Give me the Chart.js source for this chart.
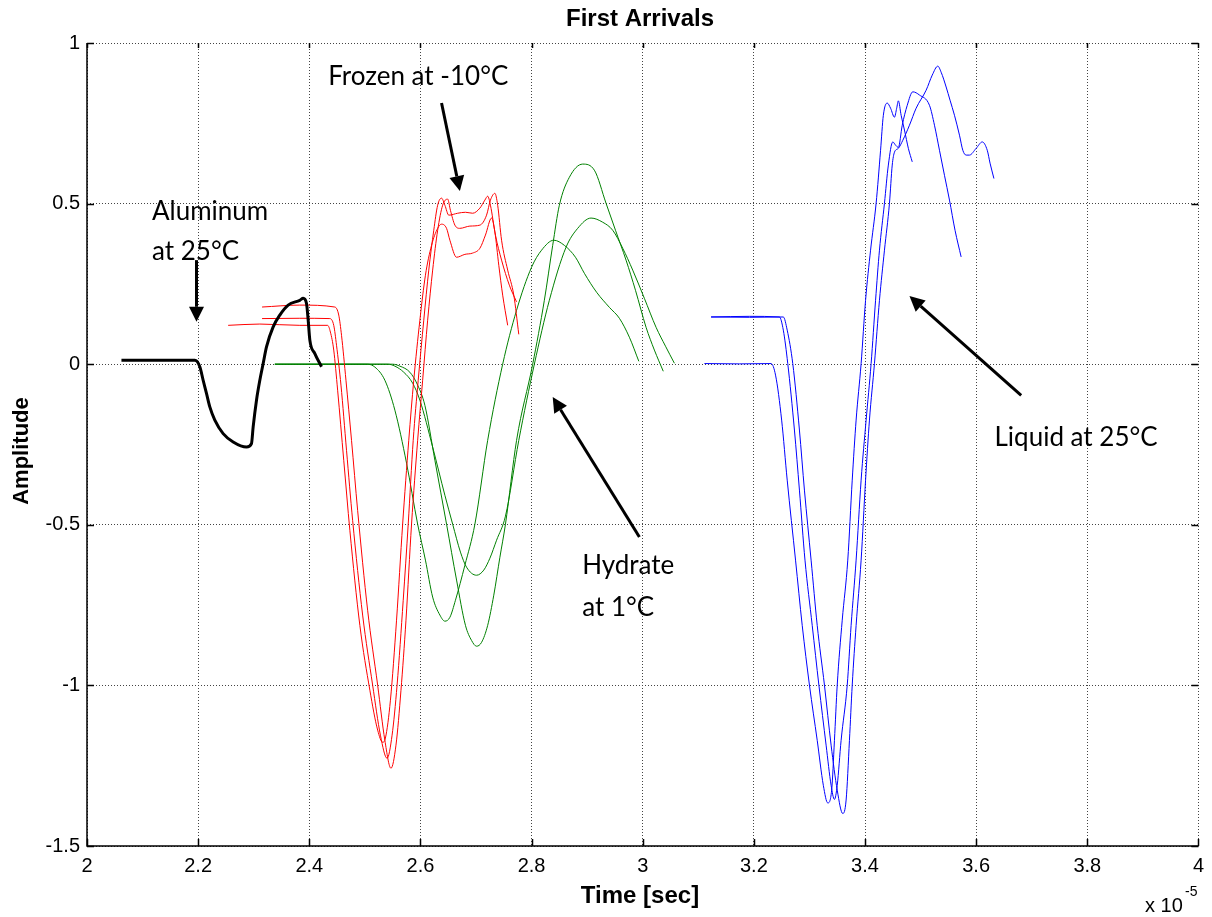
<!DOCTYPE html>
<html>
<head>
<meta charset="utf-8">
<title>First Arrivals</title>
<script src="https://cdn.jsdelivr.net/npm/chart.js@4.4.1/dist/chart.umd.min.js"></script>
<style>
    html, body { margin: 0; padding: 0; background: #fff; }
    #wrap { width: 1212px; height: 917px; }
</style>
</head>
<body>
<div id="wrap"><canvas id="arrivals" width="1212" height="917"></canvas></div>
<script>
// time is in units of 1e-5 s
const xTicks = [2, 2.2, 2.4, 2.6, 2.8, 3, 3.2, 3.4, 3.6, 3.8, 4];
const yTicks = [-1.5, -1, -0.5, 0, 0.5, 1];

// aluminum, 25°C
const alumTime = [2.062, 2.194, 2.203, 2.209, 2.215, 2.221, 2.230, 2.245, 2.263, 2.287, 2.296, 2.299, 2.305, 2.311, 2.317, 2.323, 2.335, 2.347, 2.362, 2.383, 2.389, 2.395, 2.398, 2.401, 2.410, 2.422];
const alumAmp = [0.012, 0.012, -0.008, -0.050, -0.091, -0.133, -0.174, -0.216, -0.242, -0.258, -0.247, -0.195, -0.112, -0.050, 0.002, 0.054, 0.116, 0.153, 0.184, 0.199, 0.205, 0.189, 0.137, 0.075, 0.033, -0.008];

// frozen, -10°C
const frozen1Time = [2.315, 2.383, 2.446, 2.453, 2.458, 2.466, 2.476, 2.487, 2.505, 2.523, 2.536, 2.547, 2.556, 2.565, 2.574, 2.584, 2.595, 2.604, 2.613, 2.622, 2.631, 2.640, 2.649, 2.654, 2.662, 2.671, 2.689, 2.707, 2.719, 2.726, 2.734, 2.739, 2.746, 2.757, 2.768, 2.777];
const frozen1Amp = [0.178, 0.184, 0.178, 0.153, 0.090, -0.050, -0.237, -0.455, -0.766, -0.999, -1.171, -1.258, -1.186, -1.015, -0.797, -0.498, -0.237, -0.050, 0.137, 0.293, 0.417, 0.495, 0.514, 0.479, 0.433, 0.423, 0.430, 0.433, 0.464, 0.511, 0.532, 0.495, 0.386, 0.293, 0.215, 0.093];
const frozen2Time = [2.315, 2.383, 2.437, 2.444, 2.449, 2.457, 2.467, 2.478, 2.496, 2.514, 2.528, 2.540, 2.549, 2.558, 2.569, 2.578, 2.587, 2.596, 2.606, 2.615, 2.624, 2.631, 2.638, 2.644, 2.651, 2.667, 2.681, 2.694, 2.707, 2.716, 2.721, 2.726, 2.735, 2.746, 2.760, 2.773];
const frozen2Amp = [0.142, 0.143, 0.142, 0.121, 0.059, -0.065, -0.268, -0.486, -0.781, -0.999, -1.155, -1.227, -1.155, -0.999, -0.735, -0.498, -0.237, -0.050, 0.137, 0.293, 0.417, 0.495, 0.517, 0.495, 0.464, 0.470, 0.473, 0.470, 0.486, 0.511, 0.523, 0.495, 0.402, 0.324, 0.246, 0.194];
const frozen3Time = [2.254, 2.311, 2.383, 2.433, 2.438, 2.444, 2.451, 2.462, 2.473, 2.491, 2.509, 2.523, 2.532, 2.537, 2.546, 2.557, 2.568, 2.579, 2.588, 2.599, 2.609, 2.620, 2.631, 2.638, 2.647, 2.653, 2.665, 2.680, 2.694, 2.707, 2.717, 2.728, 2.734, 2.741, 2.748, 2.757];
const frozen3Amp = [0.121, 0.125, 0.121, 0.121, 0.100, 0.044, -0.081, -0.299, -0.517, -0.813, -1.015, -1.139, -1.177, -1.164, -1.046, -0.797, -0.498, -0.237, -0.050, 0.137, 0.277, 0.370, 0.423, 0.436, 0.423, 0.386, 0.333, 0.342, 0.346, 0.361, 0.402, 0.455, 0.411, 0.308, 0.215, 0.121];

// hydrate, 1°C
const hydrate1Time = [2.338, 2.455, 2.505, 2.518, 2.536, 2.554, 2.575, 2.595, 2.609, 2.622, 2.635, 2.644, 2.653, 2.663, 2.680, 2.698, 2.721, 2.748, 2.773, 2.800, 2.818, 2.840, 2.859, 2.879, 2.895, 2.917, 2.940, 2.958, 2.976, 2.993];
const hydrate1Amp = [0, 0, 0, -0.009, -0.050, -0.143, -0.308, -0.498, -0.610, -0.725, -0.781, -0.800, -0.788, -0.735, -0.626, -0.498, -0.237, 0, 0.168, 0.302, 0.355, 0.386, 0.370, 0.333, 0.283, 0.224, 0.177, 0.143, 0.084, 0.009];
const hydrate2Time = [2.338, 2.473, 2.541, 2.554, 2.570, 2.586, 2.599, 2.622, 2.644, 2.658, 2.672, 2.683, 2.701, 2.714, 2.725, 2.737, 2.753, 2.777, 2.805, 2.832, 2.862, 2.883, 2.907, 2.928, 2.946, 2.964, 2.982, 3.003, 3.024, 3.041, 3.057];
const hydrate2Amp = [0, 0, 0, -0.006, -0.025, -0.059, -0.112, -0.258, -0.408, -0.498, -0.585, -0.632, -0.657, -0.641, -0.604, -0.548, -0.473, -0.237, 0, 0.199, 0.364, 0.423, 0.455, 0.442, 0.417, 0.361, 0.293, 0.205, 0.115, 0.056, 0.003];
const hydrate3Time = [2.338, 2.482, 2.550, 2.563, 2.581, 2.595, 2.608, 2.626, 2.647, 2.665, 2.681, 2.692, 2.701, 2.710, 2.721, 2.732, 2.743, 2.753, 2.773, 2.802, 2.823, 2.838, 2.850, 2.868, 2.892, 2.913, 2.934, 2.951, 2.970, 2.987, 3.006, 3.021, 3.037];
const hydrate3Amp = [0, 0, 0, -0.006, -0.025, -0.065, -0.128, -0.299, -0.498, -0.672, -0.813, -0.860, -0.878, -0.866, -0.813, -0.719, -0.601, -0.498, -0.237, 0, 0.199, 0.370, 0.495, 0.582, 0.623, 0.604, 0.501, 0.417, 0.324, 0.230, 0.115, 0.044, -0.022];

// liquid, 25°C
const liquid1Time = [3.111, 3.174, 3.231, 3.239, 3.250, 3.260, 3.275, 3.287, 3.300, 3.314, 3.325, 3.333, 3.340, 3.345, 3.350, 3.359, 3.369, 3.377, 3.384, 3.393, 3.401, 3.410, 3.420, 3.428, 3.433, 3.440, 3.446, 3.453, 3.457, 3.460, 3.465, 3.471, 3.478, 3.485];
const liquid1Amp = [0.002, 0.001, 0.002, -0.034, -0.174, -0.361, -0.610, -0.813, -0.999, -1.171, -1.311, -1.366, -1.326, -1.171, -0.999, -0.797, -0.610, -0.361, -0.174, 0.002, 0.199, 0.355, 0.501, 0.666, 0.775, 0.813, 0.797, 0.769, 0.797, 0.820, 0.775, 0.729, 0.672, 0.630];
const liquid2Time = [3.123, 3.192, 3.246, 3.253, 3.261, 3.273, 3.282, 3.292, 3.305, 3.317, 3.330, 3.339, 3.345, 3.350, 3.357, 3.368, 3.375, 3.384, 3.393, 3.402, 3.411, 3.419, 3.426, 3.435, 3.442, 3.450, 3.455, 3.460, 3.467, 3.476, 3.486, 3.498, 3.516, 3.525, 3.534, 3.543, 3.552, 3.562, 3.573];
const liquid2Amp = [0.147, 0.149, 0.147, 0.106, 0.002, -0.205, -0.392, -0.610, -0.813, -0.999, -1.186, -1.311, -1.355, -1.311, -1.171, -0.999, -0.813, -0.610, -0.361, -0.174, 0.002, 0.199, 0.355, 0.501, 0.620, 0.692, 0.682, 0.675, 0.744, 0.806, 0.848, 0.838, 0.806, 0.744, 0.666, 0.588, 0.511, 0.417, 0.334];
const liquid3Time = [3.123, 3.192, 3.253, 3.260, 3.270, 3.282, 3.291, 3.303, 3.314, 3.327, 3.339, 3.350, 3.360, 3.366, 3.372, 3.377, 3.384, 3.393, 3.401, 3.408, 3.417, 3.426, 3.435, 3.444, 3.449, 3.453, 3.460, 3.468, 3.480, 3.492, 3.510, 3.521, 3.531, 3.537, 3.546, 3.553, 3.561, 3.570, 3.576, 3.582, 3.588, 3.600, 3.611, 3.620, 3.625, 3.632];
const liquid3Amp = [0.147, 0.146, 0.147, 0.106, 0.002, -0.205, -0.392, -0.610, -0.813, -0.999, -1.186, -1.326, -1.399, -1.357, -1.171, -0.999, -0.813, -0.610, -0.361, -0.174, 0.002, 0.199, 0.355, 0.501, 0.620, 0.660, 0.672, 0.697, 0.744, 0.797, 0.853, 0.900, 0.928, 0.909, 0.863, 0.822, 0.775, 0.713, 0.666, 0.651, 0.651, 0.672, 0.692, 0.666, 0.626, 0.578];

const traces = [
    { time: alumTime, amp: alumAmp, color: '#000000', width: 3 },
    { time: frozen1Time, amp: frozen1Amp, color: '#ff0000', width: 1 },
    { time: frozen2Time, amp: frozen2Amp, color: '#ff0000', width: 1 },
    { time: frozen3Time, amp: frozen3Amp, color: '#ff0000', width: 1 },
    { time: hydrate1Time, amp: hydrate1Amp, color: '#008000', width: 1 },
    { time: hydrate2Time, amp: hydrate2Amp, color: '#008000', width: 1 },
    { time: hydrate3Time, amp: hydrate3Amp, color: '#008000', width: 1 },
    { time: liquid1Time, amp: liquid1Amp, color: '#0000ff', width: 1 },
    { time: liquid2Time, amp: liquid2Amp, color: '#0000ff', width: 1 },
    { time: liquid3Time, amp: liquid3Amp, color: '#0000ff', width: 1 }
];

// callouts, placed in axis units
const notes = [
    { text: 'Aluminum', x: 2.117, y: 0.450 },
    { text: 'at 25°C', x: 2.117, y: 0.324 },
    { text: 'Frozen at -10°C', x: 2.434, y: 0.869 },
    { text: 'Hydrate', x: 2.891, y: -0.652 },
    { text: 'at 1°C', x: 2.891, y: -0.784 },
    { text: 'Liquid at 25°C', x: 3.633, y: -0.255 }
];
const arrows = [
    { from: [2.197, 0.324], to: [2.197, 0.132] },
    { from: [2.638, 0.813], to: [2.671, 0.539] },
    { from: [2.994, -0.538], to: [2.838, -0.102] },
    { from: [3.681, -0.097], to: [3.480, 0.212] }
];

const tickFont = { family: "'Liberation Sans', Arial, sans-serif", size: 20 };
const boldFont = "bold 24px 'Liberation Sans', Arial, sans-serif";
const ylabelFont = "bold 22px 'Liberation Sans', Arial, sans-serif";
const noteFont = "26px Lato, 'Open Sans', sans-serif";

function drawArrow(ctx, x1, y1, x2, y2) {
    const ang = Math.atan2(y2 - y1, x2 - x1);
    const len = 15, half = 7.5;
    const bx = x2 - len * Math.cos(ang);
    const by = y2 - len * Math.sin(ang);
    ctx.lineWidth = 3;
    ctx.beginPath();
    ctx.moveTo(x1, y1);
    ctx.lineTo(bx, by);
    ctx.stroke();
    ctx.beginPath();
    ctx.moveTo(x2, y2);
    ctx.lineTo(bx + half * Math.sin(ang), by - half * Math.cos(ang));
    ctx.lineTo(bx - half * Math.sin(ang), by + half * Math.cos(ang));
    ctx.closePath();
    ctx.fill();
}

const decorations = {
    id: 'decorations',
    afterDraw(chart) {
        const { ctx, chartArea: area, scales: { x, y } } = chart;
        ctx.save();
        ctx.strokeStyle = '#000';
        ctx.fillStyle = '#000';

        // solid left and bottom axis lines
        ctx.lineWidth = 1.5;
        ctx.beginPath();
        ctx.moveTo(area.left, area.top);
        ctx.lineTo(area.left, area.bottom);
        ctx.lineTo(area.right, area.bottom);
        ctx.stroke();

        // inward tick marks on all four sides
        ctx.beginPath();
        xTicks.forEach(v => {
            const px = Math.round(x.getPixelForValue(v)) + 0.5;
            ctx.moveTo(px, area.bottom); ctx.lineTo(px, area.bottom - 7);
            ctx.moveTo(px, area.top); ctx.lineTo(px, area.top + 5);
        });
        yTicks.forEach(v => {
            const py = Math.round(y.getPixelForValue(v)) + 0.5;
            ctx.moveTo(area.left, py); ctx.lineTo(area.left + 7, py);
            ctx.moveTo(area.right, py); ctx.lineTo(area.right - 7, py);
        });
        ctx.stroke();

        // titles
        ctx.font = boldFont;
        ctx.textAlign = 'center';
        ctx.textBaseline = 'alphabetic';
        ctx.fillText('First Arrivals', 640, 26);
        ctx.fillText('Time [sec]', 640, 903);
        ctx.font = ylabelFont;
        ctx.save();
        ctx.translate(28, 451);
        ctx.rotate(-Math.PI / 2);
        ctx.fillText('Amplitude', 0, 0);
        ctx.restore();

        // axis multiplier
        ctx.font = tickFont.size + "px " + tickFont.family;
        ctx.textAlign = 'left';
        ctx.fillText('x 10', 1145, 912);
        ctx.font = "14px " + tickFont.family;
        ctx.fillText('-5', 1185, 896);

        // callouts
        ctx.font = noteFont;
        notes.forEach(n => {
            ctx.fillText(n.text, x.getPixelForValue(n.x), y.getPixelForValue(n.y));
        });
        arrows.forEach(a => {
            drawArrow(ctx,
                x.getPixelForValue(a.from[0]), y.getPixelForValue(a.from[1]),
                x.getPixelForValue(a.to[0]), y.getPixelForValue(a.to[1]));
        });
        ctx.restore();
    }
};

const ctx = document.getElementById('arrivals');

new Chart(ctx, {
    type: 'line',
    data: {
        datasets: traces.map(tr => ({
            data: tr.time.map((t, i) => ({ x: t, y: tr.amp[i] })),
            borderColor: tr.color,
            borderWidth: tr.width,
            pointRadius: 0,
            fill: false,
            cubicInterpolationMode: 'monotone'
        }))
    },
    options: {
        responsive: false,
        animation: false,
        events: [],
        layout: { padding: { top: 43, right: 12, left: 0, bottom: 0 } },
        plugins: {
            legend: { display: false },
            title: { display: false },
            tooltip: { enabled: false }
        },
        scales: {
            x: {
                type: 'linear',
                min: 2,
                max: 4,
                afterBuildTicks: scale => { scale.ticks = xTicks.map(v => ({ value: v })); },
                afterFit: scale => { scale.height = 71; },
                ticks: {
                    font: tickFont,
                    color: '#000',
                    padding: 8,
                    maxRotation: 0,
                    callback: v => String(v)
                },
                grid: { color: '#444', lineWidth: 1, drawTicks: false },
                border: { display: false, dash: [1, 2] }
            },
            y: {
                type: 'linear',
                min: -1.5,
                max: 1,
                afterBuildTicks: scale => { scale.ticks = yTicks.map(v => ({ value: v })); },
                afterFit: scale => { scale.width = 87; },
                ticks: {
                    font: tickFont,
                    color: '#000',
                    padding: 7,
                    callback: v => String(v)
                },
                grid: { color: '#444', lineWidth: 1, drawTicks: false },
                border: { display: false, dash: [1, 2] }
            }
        }
    },
    plugins: [decorations]
});
</script>
</body>
</html>
